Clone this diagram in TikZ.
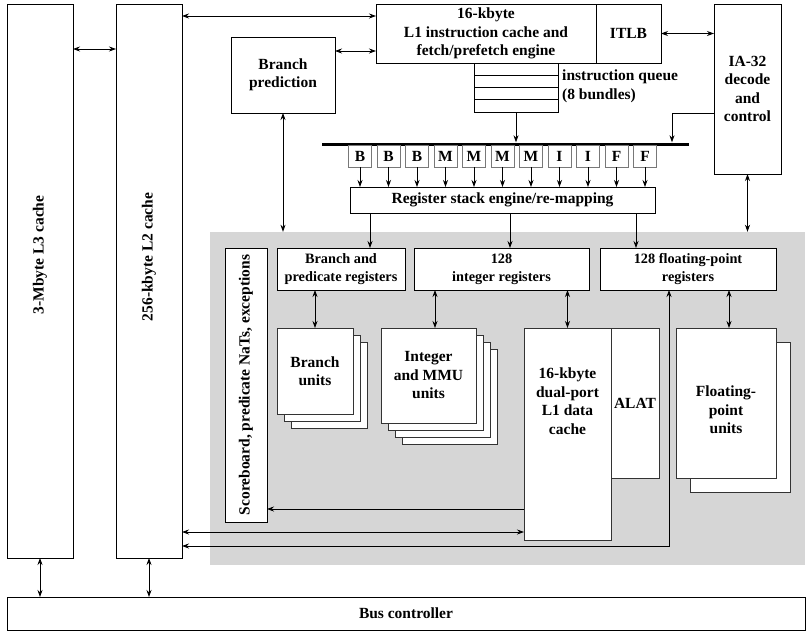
\documentclass[tikz,border=0pt]{standalone}
\usepackage{fontspec}
\setmainfont{Liberation Serif}
\usetikzlibrary{arrows.meta,calc}
\definecolor{shade}{RGB}{214,214,214}
\definecolor{slotgray}{RGB}{120,120,120}
\begin{document}
\begin{tikzpicture}[x=1pt,y=-1pt,
  box/.style={draw, line width=0.8pt, fill=white, inner sep=0pt, outer sep=0pt, align=center,
    font=\bfseries\fontsize{15.5}{18.5}\selectfont},
  sbox/.style={box, font=\bfseries\fontsize{14.3}{18}\selectfont},
  slot/.style={box, draw=slotgray, minimum width=23pt, minimum height=22pt},
  unit/.style={box, draw=black!80},
  lbl/.style={inner sep=0pt, align=center, font=\bfseries\fontsize{15.5}{18.5}\selectfont},
  conn/.style={line width=0.8pt, {Stealth[length=7pt,width=5pt]}-{Stealth[length=7pt,width=5pt]}},
  to/.style={line width=0.8pt, -{Stealth[length=7pt,width=5pt]}},
  plain/.style={line width=0.8pt}
]
\useasboundingbox (0,0) rectangle (812,635);

% shaded execution area
\node[fill=shade, inner sep=0pt, minimum width=595pt, minimum height=333pt] (gray) at (507.5,398.5) {};

% caches
\node[box, minimum width=66pt, minimum height=554pt] (l3) at (40,281) {};
\node[lbl, rotate=90] (l3t) at (40,255) {3-Mbyte L3 cache};
\node[box, minimum width=66pt, minimum height=554pt] (l2) at (149,281) {};
\node[lbl, rotate=90] (l2t) at (149,257) {256-kbyte L2 cache};

% front end
\node[box, minimum width=220pt, minimum height=59pt] (icache) at (486,33.5) {16-kbyte\\L1 instruction cache and\\fetch/prefetch engine};
\node[box, minimum width=65pt, minimum height=59pt] (itlb) at (628.5,33.5) {ITLB};
\node[box, minimum width=67pt, minimum height=170pt] (ia32) at (747.5,89) {IA-32\\decode\\and\\control};
\node[box, minimum width=104pt, minimum height=76pt] (bp) at (283,75) {Branch\\prediction};

% instruction queue
\node[box, minimum width=84pt, minimum height=12.25pt] (q1) at (516,69.1) {};
\node[box, minimum width=84pt, minimum height=12.25pt] (q2) at (516,81.4) {};
\node[box, minimum width=84pt, minimum height=12.25pt] (q3) at (516,93.6) {};
\node[box, minimum width=84pt, minimum height=12.25pt] (q4) at (516,105.9) {};
\node[lbl, anchor=west, align=left] (qlbl) at (562,86.5) {instruction queue\\(8 bundles)};

% dispersal bar and slots
\node[fill=black, inner sep=0pt, minimum width=367pt, minimum height=3pt] (bar) at (505.5,144) {};
\foreach \t [count=\i from 0] in {B,B,B,M,M,M,M,I,I,F,F}{
  \node[slot] (s\i) at ({360+28.5*\i},156) {\t};
  \draw[to] (s\i.south) -- (s\i.south |- 0,187);
}
\node[box, minimum width=305pt, minimum height=26pt] (rse) at (502.5,200) {Register stack engine/re-mapping};

% register files
\node[sbox, minimum width=42pt, minimum height=274pt] (score) at (246,385) {};
\node[lbl, rotate=90] (scoret) at (246,385) {Scoreboard, predicate NaTs, exceptions};
\node[sbox, minimum width=128pt, minimum height=42pt] (brreg) at (341,269) {Branch and\\predicate registers};
\node[sbox, minimum width=175pt, minimum height=42pt] (intreg) at (501.5,269) {128\\integer registers};
\node[sbox, minimum width=176pt, minimum height=42pt] (fpreg) at (688,269) {128 floating-point\\registers};

% branch units
\node[unit, minimum width=76pt, minimum height=86pt] (bu3) at (329,385) {};
\node[unit, minimum width=76pt, minimum height=86pt] (bu2) at (322,378) {};
\node[unit, minimum width=76pt, minimum height=86pt] (bu1) at (315,371) {Branch\\units};

% integer units
\node[unit, minimum width=95pt, minimum height=95pt] (iu4) at (449.5,396.5) {};
\node[unit, minimum width=95pt, minimum height=95pt] (iu3) at (442.5,389.5) {};
\node[unit, minimum width=95pt, minimum height=95pt] (iu2) at (435.5,382.5) {};
\node[unit, minimum width=95pt, minimum height=95pt] (iu1) at (428.5,375.5) {Integer\\and MMU\\units};

% data cache and ALAT
\node[unit, minimum width=87pt, minimum height=212pt] (dcache) at (567.5,434) {};
\node[lbl] (dcachet) at (567.5,401) {16-kbyte\\dual-port\\L1 data\\cache};
\node[unit, minimum width=48pt, minimum height=150pt] (alat) at (635,403) {ALAT};

% floating-point units
\node[unit, minimum width=100pt, minimum height=150pt] (fpu2) at (740,417) {};
\node[unit, minimum width=100pt, minimum height=150pt] (fpu1) at (726,403) {};
\node[lbl] (fput) at (726,410) {Floating-\\point\\units};

% bus controller
\node[box, minimum width=798pt, minimum height=33pt] (bus) at (406,613.5) {Bus controller};

% connectors
\draw[conn] (l3.east |- 0,49) -- (l2.west |- 0,49);
\draw[conn] (l2.east |- 0,16) -- (icache.west |- 0,16);
\draw[conn] (bp.east |- 0,51) -- (icache.west |- 0,51);
\draw[conn] (itlb.east) -- (ia32.west |- itlb.east);
\draw[conn] (bp.south) -- (bp.south |- gray.north);
\draw[conn] (ia32.south) -- (ia32.south |- gray.north);
\draw[to] (q4.south) -- (q4.south |- bar.north);
\draw[to] (ia32.west |- 0,113) -| (bar.north -| 672,0);
\draw[to] (rse.south -| 370,0) -- (brreg.north -| 370,0);
\draw[to] (rse.south -| 510,0) -- (intreg.north -| 510,0);
\draw[to] (rse.south -| 636,0) -- (fpreg.north -| 636,0);
\draw[conn] (brreg.south -| bu1.north) -- (bu1.north);
\draw[conn] (intreg.south -| 435,0) -- (iu1.north -| 435,0);
\draw[conn] (intreg.south -| dcache.north) -- (dcache.north);
\draw[conn] (fpreg.south -| 729,0) -- (fpu1.north -| 729,0);
\draw[to] (dcache.west |- 0,509) -- (score.east |- 0,509);
\draw[conn] (l2.east |- 0,532) -- (dcache.west |- 0,532);
\draw[conn] (l2.east |- 0,546) -| (fpreg.south -| 669,0);
\draw[conn] (l3.south) -- (l3.south |- bus.north);
\draw[conn] (l2.south) -- (l2.south |- bus.north);
\end{tikzpicture}
\end{document}
